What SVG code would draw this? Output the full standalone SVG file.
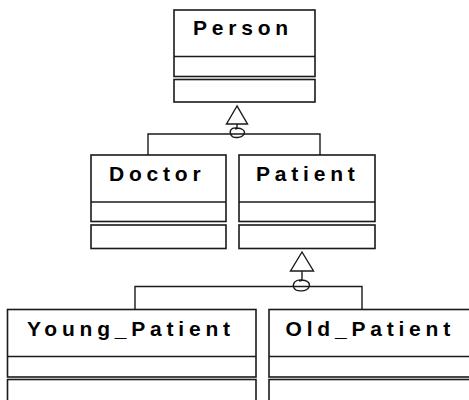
<svg xmlns="http://www.w3.org/2000/svg" width="469" height="400" viewBox="0 0 469 400">
  <style>
    .box { fill: #fff; stroke: #1a1a1a; stroke-width: 1.6; }
    .sep { stroke: #1a1a1a; stroke-width: 1.4; fill: none; }
    .wire { stroke: #1a1a1a; stroke-width: 1.4; fill: none; }
    .head { fill: #fff; stroke: #1a1a1a; stroke-width: 1.4; }
    .title { font-family: "Liberation Sans", Arial, sans-serif; font-weight: bold; font-size: 21px; letter-spacing: 4.8px; fill: #000; }
  </style>
  <rect width="469" height="400" fill="#fff"/>

  <!-- generalisation connectors -->
  <g id="connectors">
    <!-- Doctor / Patient -> Person -->
    <polyline class="wire" points="148,155 148,134 320,134 320,155"/>
    <line class="wire" x1="237" y1="124" x2="237" y2="128"/>
    <path class="wire" d="M237,128 C231,127 229,131 231,135 C233,139 242,138 244,134 C246,130 240,127 235,129"/>
    <polygon class="head" points="237,106 226.5,124 247.5,124"/>

    <!-- Young_Patient / Old_Patient -> Patient -->
    <polyline class="wire" points="135,309.5 135,286.5 362,286.5 362,309.5"/>
    <line class="wire" x1="302" y1="271" x2="302" y2="280"/>
    <path class="wire" d="M302,280 C295,279 292,284 294,288 C296,292 307,292 309,287 C311,282 305,279 299,281"/>
    <polygon class="head" points="302,252 290.5,271 313.5,271"/>
  </g>

  <g id="Person">
    <rect class="box" x="174" y="10" width="141" height="66.5"/>
    <line class="sep" x1="174" y1="56.5" x2="315" y2="56.5"/>
    <rect class="box" x="174" y="79.5" width="141" height="22.5"/>
    <text class="title" x="193" y="35">Person</text>
  </g>

  <g id="Doctor">
    <rect class="box" x="91" y="155" width="135" height="66.5"/>
    <line class="sep" x1="91" y1="202" x2="226" y2="202"/>
    <rect class="box" x="91" y="225" width="135" height="23.5"/>
    <text class="title" x="109" y="181">Doctor</text>
  </g>

  <g id="Patient">
    <rect class="box" x="239" y="155" width="136" height="66.5"/>
    <line class="sep" x1="239" y1="202" x2="375" y2="202"/>
    <rect class="box" x="239" y="225" width="136" height="23.5"/>
    <text class="title" x="256" y="181">Patient</text>
  </g>

  <g id="Young_Patient">
    <rect class="box" x="7.5" y="309.5" width="248.5" height="67.5"/>
    <line class="sep" x1="7.5" y1="356.5" x2="256" y2="356.5"/>
    <rect class="box" x="7.5" y="379.5" width="248.5" height="30"/>
    <text class="title" x="27" y="336">Young_Patient</text>
  </g>

  <g id="Old_Patient">
    <rect class="box" x="269" y="309.5" width="220" height="67.5"/>
    <line class="sep" x1="269" y1="356.5" x2="489" y2="356.5"/>
    <rect class="box" x="269" y="379.5" width="220" height="30"/>
    <text class="title" x="285.5" y="336">Old_Patient</text>
  </g>
</svg>
